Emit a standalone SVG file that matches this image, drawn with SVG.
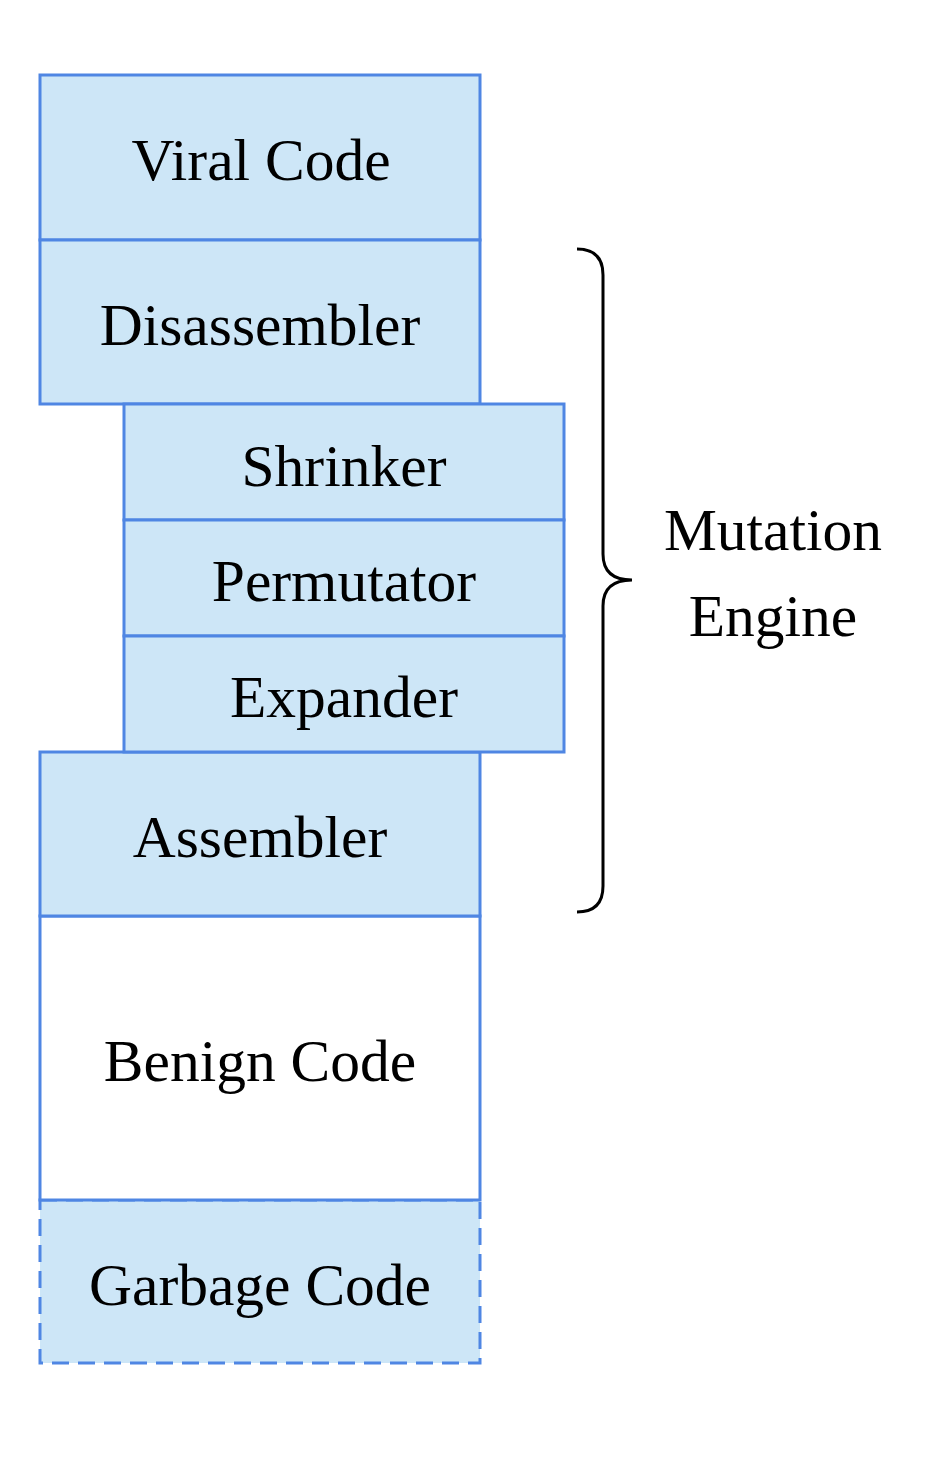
<svg xmlns="http://www.w3.org/2000/svg" width="930" height="1472" viewBox="0 0 930 1472">
<style>
.b{fill:#cde6f7;stroke:#4f86e3;stroke-width:3}
.w{fill:#ffffff;stroke:#4f86e3;stroke-width:3}
.d{fill:#cde6f7;stroke:#4f86e3;stroke-width:3;stroke-dasharray:17 9}
text{font-family:"Liberation Serif","Times New Roman",serif;font-size:59.5px;fill:#000;text-anchor:middle}
</style>
<rect width="930" height="1472" fill="#fff"/>
<g id="garbage"><rect class="d" x="40" y="1200" width="440" height="163"/><text x="260" y="1305">Garbage Code</text></g>
<g id="benign"><rect class="w" x="40" y="916" width="440" height="284"/><text x="260" y="1081">Benign Code</text></g>
<g id="viral"><rect class="b" x="40" y="75" width="440" height="165"/><text x="261" y="180">Viral Code</text></g>
<g id="disassembler"><rect class="b" x="40" y="240" width="440" height="164"/><text x="260" y="345">Disassembler</text></g>
<g id="assembler"><rect class="b" x="40" y="752" width="440" height="164"/><text x="260" y="857">Assembler</text></g>
<g id="shrinker"><rect class="b" x="124" y="404" width="440" height="116"/><text x="344" y="486">Shrinker</text></g>
<g id="permutator"><rect class="b" x="124" y="520" width="440" height="116"/><text x="344" y="601">Permutator</text></g>
<g id="expander"><rect class="b" x="124" y="636" width="440" height="116"/><text x="344" y="717">Expander</text></g>
<g id="connectors">
<path d="M577 249 Q603 249 603 275 L603 554 Q603 580 632 580 Q603 580 603 606 L603 886 Q603 912 577 912" fill="none" stroke="#000" stroke-width="3"/>
</g>
<g id="mutation-engine"><text x="773" y="550">Mutation</text><text x="773" y="636">Engine</text></g>
</svg>
